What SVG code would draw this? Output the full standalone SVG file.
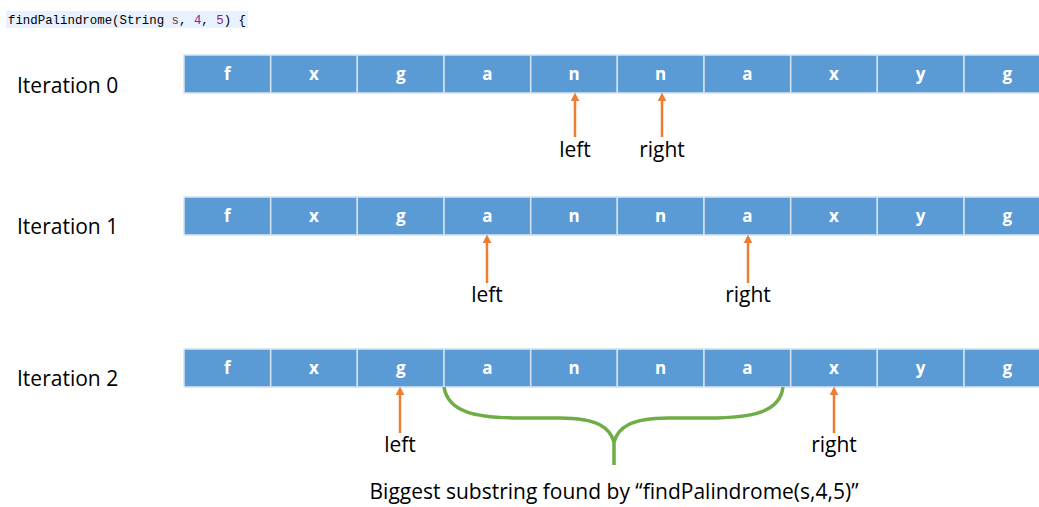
<svg xmlns="http://www.w3.org/2000/svg" width="1039" height="507" viewBox="0 0 1039 507">
  <defs>
    <style>
      .cell { fill: #5B9BD5; stroke: #D6E4F2; stroke-width: 1.5; }
      .ch { fill: #FFFFFF; font-family: "Open Sans", "Liberation Sans", sans-serif; font-weight: bold; font-size: 17px; text-anchor: middle; }
      .iter { fill: #000000; font-family: "Open Sans", "Liberation Sans", sans-serif; font-size: 21px; }
      .ptr { fill: #000000; font-family: "Open Sans", "Liberation Sans", sans-serif; font-size: 21px; text-anchor: middle; }
      .arrow { stroke: #ED7D31; stroke-width: 2.5; fill: none; marker-end: url(#head); }
      .brace { stroke: #70AD47; stroke-width: 3.5; fill: none; }
      .code { font-family: "Liberation Mono", "DejaVu Sans Mono", monospace; font-size: 12.4px; fill: #000000; }
    </style>
    <marker id="head" viewBox="0 0 10 10" refX="6" refY="5" markerWidth="3.6" markerHeight="3.6" orient="auto">
      <path d="M0,0 L10,5 L0,10 z" fill="#ED7D31"/>
    </marker>
    <!-- one row of ten cells, 86.7px each -->
    <g id="row">
      <rect class="cell" x="184" y="0" width="86.7" height="38"/>
      <rect class="cell" x="270.7" y="0" width="86.7" height="38"/>
      <rect class="cell" x="357.3" y="0" width="86.7" height="38"/>
      <rect class="cell" x="444" y="0" width="86.7" height="38"/>
      <rect class="cell" x="530.7" y="0" width="86.7" height="38"/>
      <rect class="cell" x="617.3" y="0" width="86.7" height="38"/>
      <rect class="cell" x="704" y="0" width="86.7" height="38"/>
      <rect class="cell" x="790.7" y="0" width="86.7" height="38"/>
      <rect class="cell" x="877.3" y="0" width="86.7" height="38"/>
      <rect class="cell" x="964" y="0" width="86.7" height="38"/>
      <text class="ch" x="227.3" y="25">f</text>
      <text class="ch" x="314" y="25">x</text>
      <text class="ch" x="400.7" y="25">g</text>
      <text class="ch" x="487.3" y="25">a</text>
      <text class="ch" x="574" y="25">n</text>
      <text class="ch" x="660.7" y="25">n</text>
      <text class="ch" x="747.3" y="25">a</text>
      <text class="ch" x="834" y="25">x</text>
      <text class="ch" x="920.7" y="25">y</text>
      <text class="ch" x="1007.3" y="25">g</text>
    </g>
  </defs>

  <!-- signature line -->
  <g id="signature">
    <rect x="6" y="11" width="242" height="17" fill="#E8F2FE"/>
    <text class="code" x="8" y="24">findPalindrome(String <tspan fill="#6A3E3E">s</tspan>, <tspan fill="#8E1D8E">4</tspan>, <tspan fill="#8E1D8E">5</tspan>) {</text>
  </g>

  <!-- iteration 0 -->
  <g id="iteration0">
    <text class="iter" x="17" y="93">Iteration 0</text>
    <use href="#row" y="55"/>
    <text class="ptr" x="575" y="157">left</text>
    <text class="ptr" x="662" y="157">right</text>
  </g>

  <!-- iteration 1 -->
  <g id="iteration1">
    <text class="iter" x="17" y="234">Iteration 1</text>
    <use href="#row" y="197"/>
    <text class="ptr" x="487" y="302">left</text>
    <text class="ptr" x="748" y="302">right</text>
  </g>

  <!-- iteration 2 -->
  <g id="iteration2">
    <text class="iter" x="17" y="386">Iteration 2</text>
    <use href="#row" y="349"/>
    <text class="ptr" x="400" y="452">left</text>
    <text class="ptr" x="834" y="452">right</text>
  </g>

  <!-- pointer arrows and the palindrome brace -->
  <g id="connectors">
    <line class="arrow" x1="575" y1="137" x2="575" y2="96"/>
    <line class="arrow" x1="662" y1="137" x2="662" y2="96"/>
    <line class="arrow" x1="487" y1="283" x2="487" y2="238"/>
    <line class="arrow" x1="748" y1="283" x2="748" y2="238"/>
    <line class="arrow" x1="400" y1="433" x2="400" y2="390"/>
    <line class="arrow" x1="834" y1="433" x2="834" y2="390"/>
    <path class="brace" d="M444,387 C448,412 475,418 520,418 L560,418 C598,418 610,428 614,442 C618,428 630,418 668,418 L708,418 C753,418 780,412 783,387 M614,442 L614,465"/>
  </g>

  <g id="caption">
    <text class="ptr" x="614" y="499">Biggest substring found by “findPalindrome(s,4,5)”</text>
  </g>
</svg>
